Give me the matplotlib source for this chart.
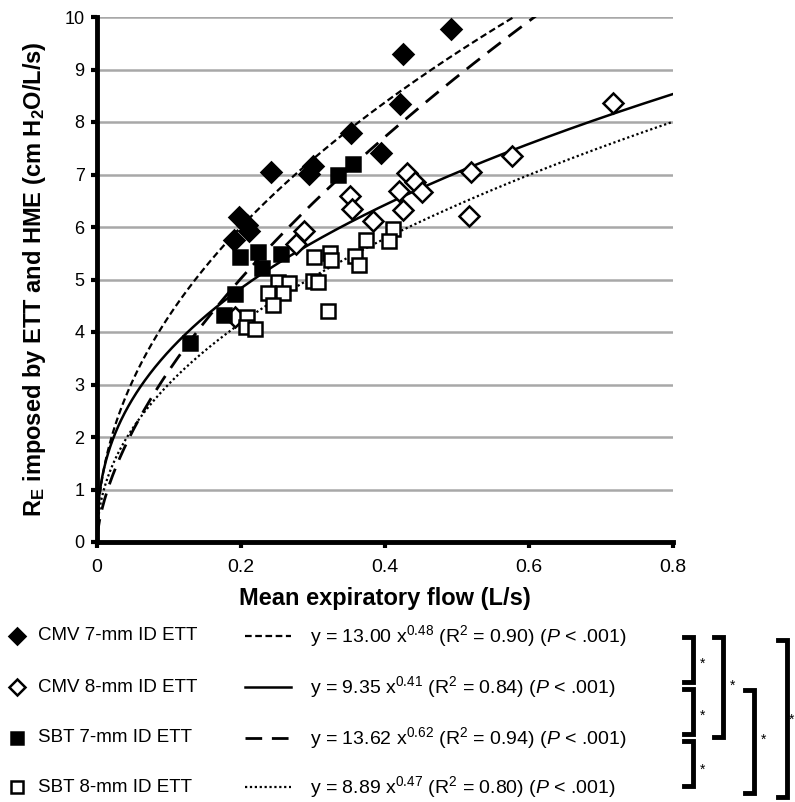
import numpy as np
import matplotlib
matplotlib.use("Agg")
import matplotlib.pyplot as plt
from matplotlib.lines import Line2D
from matplotlib import font_manager as fm

names = {f.name for f in fm.fontManager.ttflist}
NARROW = 'Liberation Sans Narrow' if 'Liberation Sans Narrow' in names else 'Liberation Sans'
plt.rcParams['font.family'] = ['Liberation Sans', 'DejaVu Sans']
plt.rcParams['mathtext.fontset'] = 'custom'
plt.rcParams['mathtext.rm'] = NARROW
plt.rcParams['mathtext.it'] = NARROW + ':italic'
plt.rcParams['mathtext.bf'] = NARROW + ':bold'
plt.rcParams['mathtext.default'] = 'regular'

# ---- data ----
cmv7_x = [0.190, 0.197, 0.209, 0.211, 0.242, 0.294, 0.300, 0.353, 0.394, 0.421, 0.425, 0.492]
cmv7_y = [5.75, 6.20, 6.03, 5.93, 7.05, 7.01, 7.16, 7.80, 7.41, 8.35, 9.30, 9.77]

cmv8_x = [0.192, 0.277, 0.287, 0.352, 0.354, 0.384, 0.419, 0.425, 0.431, 0.441, 0.451, 0.517, 0.519, 0.577, 0.717]
cmv8_y = [4.28, 5.68, 5.93, 6.60, 6.35, 6.12, 6.68, 6.33, 7.03, 6.85, 6.66, 6.21, 7.04, 7.35, 8.36]

sbt7_x = [0.129, 0.176, 0.191, 0.198, 0.223, 0.229, 0.256, 0.335, 0.356]
sbt7_y = [3.80, 4.33, 4.73, 5.43, 5.52, 5.21, 5.48, 7.00, 7.20]

sbt8_x = [0.411, 0.405, 0.373, 0.358, 0.364, 0.324, 0.325, 0.301, 0.300, 0.307, 0.321,
          0.252, 0.266, 0.238, 0.259, 0.244, 0.209, 0.207, 0.219]
sbt8_y = [5.96, 5.74, 5.75, 5.45, 5.28, 5.50, 5.38, 5.42, 4.98, 4.96, 4.40,
          4.96, 4.93, 4.75, 4.74, 4.51, 4.28, 4.10, 4.06]

series_labels = ['CMV 7-mm ID ETT', 'CMV 8-mm ID ETT', 'SBT 7-mm ID ETT', 'SBT 8-mm ID ETT']
fit_coef = [13.00, 9.35, 13.62, 8.89]
fit_exp = [0.48, 0.41, 0.62, 0.47]
fit_r2 = ['0.90', '0.84', '0.94', '0.80']

x_ticks = [0, 0.2, 0.4, 0.6, 0.8]
x_tick_labels = ['0', '0.2', '0.4', '0.6', '0.8']
y_ticks = list(range(0, 11))

# ---- styles ----
markers = ['D', 'D', 's', 's']
fills = ['black', 'white', 'black', 'white']
msizes = [10.5, 10.5, 10, 10]
line_styles = [(0, (3, 1.6)), '-', (0, (6, 3.5)), (0, (1, 1.2))]
line_widths = [1.6, 1.8, 2.0, 1.6]

fig = plt.figure(figsize=(7.95, 8.02), dpi=100)
ax = fig.add_axes([97/795, 1 - 542/802, (673-97)/795, (542-17)/802])

xs = [cmv7_x, cmv8_x, sbt7_x, sbt8_x]
ys = [cmv7_y, cmv8_y, sbt7_y, sbt8_y]

xx = np.linspace(0.0005, 0.8, 800)
for i in range(4):
    yy = fit_coef[i] * xx ** fit_exp[i]
    ax.plot(xx, yy, color='black', linestyle=line_styles[i], lw=line_widths[i], zorder=3)
for i in range(4):
    ax.plot(xs[i], ys[i], linestyle='none', marker=markers[i], markersize=msizes[i],
            markerfacecolor=fills[i], markeredgecolor='black', markeredgewidth=1.8, zorder=4)

ax.set_xlim(0, 0.8)
ax.set_ylim(0, 10)
ax.set_xticks(x_ticks)
ax.set_xticklabels(x_tick_labels)
ax.set_yticks(y_ticks)
ax.yaxis.grid(True, color='#a8a8a8', lw=1.8)
ax.set_axisbelow(True)
for s in ['top', 'right']:
    ax.spines[s].set_visible(False)
for s in ['left', 'bottom']:
    ax.spines[s].set_linewidth(3.5)
ax.tick_params(axis='both', direction='out', length=4, width=3, labelsize=13, pad=5)
ax.tick_params(axis='x', pad=8)
for lab in ax.get_xticklabels():
    lab.set_family(NARROW)
    lab.set_fontsize(14)
for lab in ax.get_yticklabels():
    lab.set_family('Liberation Sans')
    lab.set_fontsize(13)

ax.set_xlabel('Mean expiratory flow (L/s)', fontsize=17, fontweight='bold', family=NARROW, labelpad=8)
ax.set_ylabel(r'R$_{E}$ imposed by ETT and HME (cm H$_{2}$O/L/s)', fontsize=17,
              fontweight='bold', family=NARROW, labelpad=12)

# ---- legend ----
row_y = [636, 687, 738, 787]
for i in range(4):
    yf = 1 - row_y[i] / 802
    fig.add_artist(Line2D([17/795], [yf], transform=fig.transFigure, linestyle='none',
                          marker=markers[i], markersize=8 if i < 2 else 8.5,
                          markerfacecolor=fills[i], markeredgecolor='black', markeredgewidth=1.8))
    fig.text(38/795, yf, series_labels[i], fontsize=13.5, family=NARROW, va='center', ha='left')
    fig.add_artist(Line2D([245/795, 291/795], [yf, yf], transform=fig.transFigure, color='black',
                          linestyle=line_styles[i], lw=line_widths[i]))
    eq = (r'y = %.2f x$^{%.2f}$ (R$^{2}$ = %s) ($\mathit{P}$ < .001)'
          % (fit_coef[i], fit_exp[i], fit_r2[i]))
    fig.text(310/795, yf, eq, fontsize=14, family=NARROW, va='center', ha='left')

# ---- significance brackets ----
def bracket(x, y0, y1, star_y, star_dx=10):
    X = [x - 9, x, x, x - 9]
    Y = [y0, y0, y1, y1]
    fig.add_artist(Line2D([v/795 for v in X], [1 - v/802 for v in Y], transform=fig.transFigure,
                          color='black', lw=3.5, solid_joinstyle='miter'))
    if star_y is not None:
        fig.text((x + star_dx)/795, 1 - star_y/802, '*', fontsize=10, ha='center', va='center')

bracket(693, 637, 682, 664)
bracket(693, 689, 734, 716)
bracket(693, 741, 786, 770)
bracket(723, 637, 737, 686)
bracket(754, 690, 793, 740)
bracket(787, 640, 797, 720, star_dx=5)

fig.savefig('out.png', dpi=100)
